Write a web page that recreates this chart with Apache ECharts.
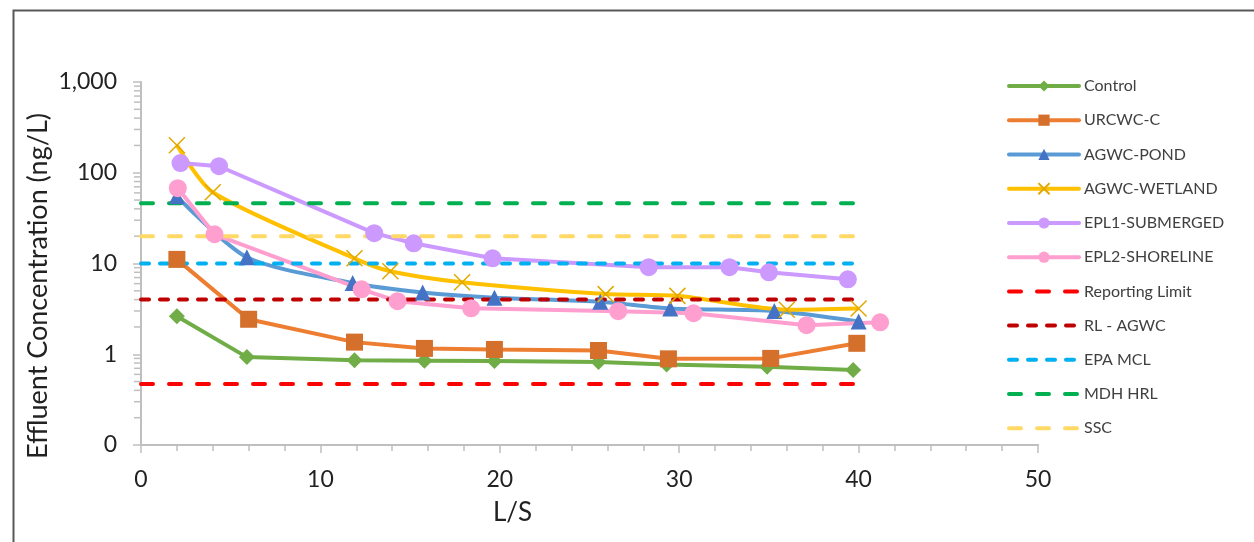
<!DOCTYPE html>
<html>
<head>
<meta charset="utf-8">
<script src="https://cdn.jsdelivr.net/npm/echarts@6/dist/echarts.min.js"></script>
<style>
  html, body { margin: 0; padding: 0; background: #fff; }
  #chart { width: 1254px; height: 542px; }
</style>
</head>
<body>
<div id="chart"></div>
<script>
// Effluent concentration vs liquid-to-solid ratio (L/S)
const controlLS = [2.0, 5.9, 11.9, 15.8, 19.7, 25.5, 29.3, 34.9, 39.7];
const controlConc = [2.62, 0.93, 0.86, 0.85, 0.84, 0.82, 0.77, 0.73, 0.67];

const urcwcLS = [2.0, 6.0, 11.9, 15.8, 19.7, 25.5, 29.4, 35.1, 39.9];
const urcwcConc = [11.1, 2.43, 1.36, 1.16, 1.13, 1.10, 0.89, 0.90, 1.32];

const pondLS = [2.0, 5.9, 11.8, 15.7, 19.7, 25.6, 29.5, 35.3, 40.0];
const pondConc = [55, 11.7, 6.1, 4.8, 4.2, 3.8, 3.2, 3.0, 2.3];

const wetlandLS = [2.0, 4.0, 11.9, 13.9, 17.9, 25.9, 29.9, 36.0, 40.0];
const wetlandConc = [201, 61, 11.4, 8.2, 6.2, 4.6, 4.4, 3.1, 3.2];

const epl1LS = [2.2, 4.35, 13.0, 15.2, 19.6, 28.3, 32.8, 35.0, 39.4];
const epl1Conc = [128, 118, 21.6, 16.7, 11.4, 9.1, 9.1, 8.0, 6.7];

const epl2LS = [2.05, 4.1, 12.3, 14.3, 18.4, 26.6, 30.8, 37.1, 41.2];
const epl2Conc = [67.6, 21, 5.2, 3.84, 3.21, 2.98, 2.83, 2.09, 2.25];

// Horizontal criteria lines (ng/L), drawn from L/S 0 to 40
const limitNames = ['Reporting Limit', 'RL - AGWC', 'EPA MCL', 'MDH HRL', 'SSC'];
const limitValues = [0.47, 4, 10, 46, 20];
const limitSpan = [0, 40];

// Log-axis minor tick positions (2..9 within each decade)
const yMinorTicks = [
  0.2, 0.3, 0.4, 0.5, 0.6, 0.7, 0.8, 0.9,
  2, 3, 4, 5, 6, 7, 8, 9,
  20, 30, 40, 50, 60, 70, 80, 90,
  200, 300, 400, 500, 600, 700, 800, 900
];

const FONT = 'Lato';
const pairs = (xs, ys) => xs.map((x, i) => [x, ys[i]]);

function dataSeries(name, xs, ys, lineColor, markColor, symbol, size, extra) {
  return Object.assign({
    name: name,
    type: 'line',
    data: pairs(xs, ys),
    symbol: symbol,
    symbolSize: size,
    showAllSymbol: true,
    lineStyle: { color: lineColor, width: 4 },
    itemStyle: { color: markColor },
    emphasis: { disabled: true },
    z: 3
  }, extra || {});
}

const limitStyles = [
  { color: '#FF0000', type: [12, 16] },
  { color: '#C00000', type: [8, 11] },
  { color: '#00B0F0', type: [8, 11] },
  { color: '#00B050', type: [12, 16] },
  { color: '#FFD966', type: [12, 16] }
];

const limitSeries = limitNames.map((name, i) => ({
  name: name,
  type: 'line',
  data: limitSpan.map(x => [x, limitValues[i]]),
  symbol: 'none',
  lineStyle: { color: limitStyles[i].color, width: 4, type: limitStyles[i].type, cap: 'round' },
  itemStyle: { color: limitStyles[i].color },
  emphasis: { disabled: true },
  z: 3
}));

const dataNames = ['Control', 'URCWC-C', 'AGWC-POND', 'AGWC-WETLAND', 'EPL1-SUBMERGED', 'EPL2-SHORELINE'];

const series = [
  dataSeries('Control', controlLS, controlConc, '#70AD47', '#70AD47', 'diamond', 16),
  dataSeries('URCWC-C', urcwcLS, urcwcConc, '#ED7D31', '#D46F2C', 'rect', 17),
  dataSeries('AGWC-POND', pondLS, pondConc, '#5B9BD5', '#4472C4', 'triangle', 16, { smooth: 0.25 }),
  dataSeries('AGWC-WETLAND', wetlandLS, wetlandConc, '#FFC000', 'none',
    'path://M0,0L10,10M10,0L0,10', 16,
    { smooth: 0.25, itemStyle: { color: 'none', borderColor: '#E0A800', borderWidth: 1.5 } }),
  dataSeries('EPL1-SUBMERGED', epl1LS, epl1Conc, '#CC99FF', '#CC99FF', 'circle', 18),
  dataSeries('EPL2-SHORELINE', epl2LS, epl2Conc, '#FF9FD0', '#FF9FD0', 'circle', 18)
].concat(limitSeries);

// minor ticks on the log axis
series.push({
  type: 'custom',
  coordinateSystem: 'cartesian2d',
  data: yMinorTicks.map(v => [0, v]),
  silent: true,
  clip: false,
  z: 1,
  renderItem: function (params, api) {
    const p = api.coord([0, api.value(1)]);
    return {
      type: 'line',
      shape: { x1: p[0] - 7, y1: p[1], x2: p[0], y2: p[1] },
      style: { stroke: '#BFBFBF', lineWidth: 1.5 }
    };
  }
});

const chart = echarts.init(document.getElementById('chart'), null, { renderer: 'canvas' });
chart.setOption({
  animation: false,
  backgroundColor: '#ffffff',
  textStyle: { fontFamily: FONT },
  graphic: [{
    type: 'rect',
    left: 11, top: 8,
    shape: { width: 1300, height: 600 },
    style: { fill: 'none', stroke: '#595959', lineWidth: 2 },
    silent: true
  }, {
    type: 'text',
    x: 38, y: 286,
    rotation: Math.PI / 2,
    style: {
      text: 'Effluent Concentration (ng/L)',
      fontFamily: FONT, fontSize: 27, fill: '#222',
      align: 'center', verticalAlign: 'middle'
    },
    silent: true
  }],
  grid: { left: 141, right: 216, top: 82, bottom: 97 },
  legend: {
    orient: 'vertical',
    left: 1002,
    top: 73,
    itemWidth: 70,
    itemHeight: 14,
    itemGap: 18.2,
    data: dataNames.map(n => ({ name: n }))
      .concat(limitNames.map(n => ({ name: n, itemStyle: { opacity: 0 } }))),
    lineStyle: { width: 4, cap: 'round' },
    textStyle: { fontFamily: FONT, fontSize: 16, color: '#404040' },
    selectedMode: false
  },
  xAxis: {
    type: 'value',
    min: 0, max: 50, interval: 10,
    name: 'L/S',
    nameLocation: 'middle',
    nameGap: 55,
    nameTextStyle: { fontFamily: FONT, fontSize: 26, color: '#222', padding: [0, 154, 0, 0] },
    axisLine: { show: true, onZero: false, lineStyle: { color: '#BFBFBF', width: 2 } },
    axisTick: { show: true, length: 8, lineStyle: { color: '#BFBFBF', width: 1.5 } },
    minorTick: { show: true, splitNumber: 5, length: 6, lineStyle: { color: '#BFBFBF', width: 1.5 } },
    axisLabel: { fontFamily: FONT, fontSize: 23, color: '#222', margin: 23 },
    splitLine: { show: false }
  },
  yAxis: {
    type: 'log',
    logBase: 10,
    min: 0.1, max: 1000,
    axisLine: { show: true, lineStyle: { color: '#BFBFBF', width: 2 } },
    axisTick: { show: true, length: 8, lineStyle: { color: '#BFBFBF', width: 1.5 } },
    axisLabel: {
      fontFamily: FONT, fontSize: 23, color: '#222', margin: 24,
      formatter: function (v) {
        return v < 1 ? '0' : Math.round(v).toLocaleString('en-US');
      }
    },
    splitLine: { show: false }
  },
  series: series
});
</script>
</body>
</html>
